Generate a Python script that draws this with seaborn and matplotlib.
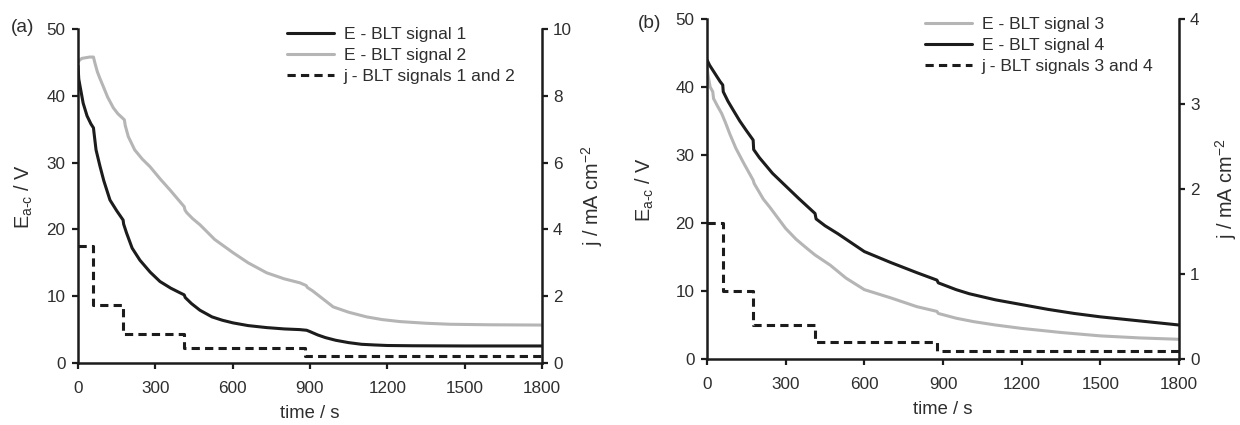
import numpy as np
import pandas as pd
import matplotlib
matplotlib.use("Agg")
import matplotlib.pyplot as plt
import seaborn as sns

# ---------------- data ----------------
# Panel (a)
t_a1 = [0, 3, 10, 20, 35, 50, 60, 62, 70, 85, 100, 124, 150, 175, 177, 188, 210, 240, 280, 318,
        360, 396, 412, 416, 440, 473, 520, 560, 602, 660, 732, 800, 860, 887, 900, 930, 960, 1000,
        1050, 1100, 1150, 1200, 1300, 1500, 1800]
e_a1 = [44.5, 42.5, 41.0, 38.9, 37.0, 35.8, 35.2, 34.5, 31.9, 29.5, 27.3, 24.4, 22.8, 21.4, 20.8,
        19.5, 17.2, 15.4, 13.6, 12.2, 11.2, 10.5, 10.2, 9.8, 8.9, 7.9, 6.9, 6.4, 6.0, 5.6, 5.3, 5.1,
        5.0, 4.9, 4.7, 4.2, 3.8, 3.4, 3.05, 2.8, 2.7, 2.62, 2.58, 2.55, 2.55]

t_a2 = [0, 5, 15, 30, 45, 60, 65, 75, 85, 98, 115, 137, 155, 169, 180, 183, 195, 220, 250, 279,
        320, 357, 390, 412, 415, 422, 445, 473, 530, 602, 660, 732, 800, 861, 885, 890, 910, 940,
        990, 1050, 1120, 1180, 1249, 1350, 1443, 1600, 1800]
e_a2 = [45.0, 45.3, 45.6, 45.7, 45.8, 45.8, 45.0, 43.6, 42.6, 41.4, 39.8, 38.2, 37.3, 36.8, 36.4,
        35.6, 33.9, 31.9, 30.5, 29.4, 27.5, 25.9, 24.4, 23.4, 22.9, 22.5, 21.6, 20.7, 18.5, 16.5,
        15.0, 13.5, 12.6, 12.0, 11.6, 11.3, 10.8, 9.9, 8.4, 7.6, 6.9, 6.5, 6.2, 5.95, 5.8, 5.72, 5.68]

t_aj = [0, 60, 175, 410, 880, 1800]
j_a = [3.5, 1.75, 0.875, 0.4375, 0.21875, 0.21875]

# Panel (b)
t_b3 = [0, 5, 12, 22, 25, 40, 56, 70, 88, 110, 140, 176, 180, 215, 240, 300, 340, 380, 412, 470,
        530, 600, 700, 800, 877, 882, 950, 1016, 1100, 1200, 1350, 1500, 1650, 1800]
e_b3 = [43.0, 41.5, 40.0, 39.3, 38.3, 37.2, 36.1, 34.8, 33.0, 31.0, 28.8, 26.3, 25.8, 23.5, 22.3,
        19.2, 17.6, 16.3, 15.3, 13.8, 11.9, 10.2, 9.0, 7.7, 7.0, 6.7, 6.0, 5.5, 5.0, 4.5, 3.9, 3.4,
        3.1, 2.9]

t_b4 = [0, 10, 30, 50, 60, 62, 80, 100, 125, 150, 176, 178, 200, 250, 304, 350, 412, 416, 450, 500,
        600, 700, 800, 877, 882, 950, 1000, 1100, 1200, 1300, 1400, 1500, 1600, 1700, 1800]
e_b4 = [44.0, 43.2, 42.0, 40.8, 40.3, 39.3, 37.9, 36.6, 35.0, 33.6, 32.2, 30.8, 29.6, 27.3, 25.3,
        23.6, 21.4, 20.6, 19.6, 18.4, 15.8, 14.2, 12.7, 11.6, 11.2, 10.2, 9.6, 8.7, 8.0, 7.3, 6.7,
        6.2, 5.8, 5.4, 5.0]

t_bj = [0, 60, 175, 412, 877, 1800]
j_b = [1.6, 0.8, 0.4, 0.2, 0.1, 0.1]

x_ticks = [0, 300, 600, 900, 1200, 1500, 1800]
e_ticks = [0, 10, 20, 30, 40, 50]
j_ticks_a = [0, 2, 4, 6, 8, 10]
j_ticks_b = [0, 1, 2, 3, 4]

labels_a = ["E - BLT signal 1", "E - BLT signal 2", "j - BLT signals 1 and 2"]
labels_b = ["E - BLT signal 3", "E - BLT signal 4", "j - BLT signals 3 and 4"]

# ---------------- style ----------------
sns.set_style("ticks")
plt.rcParams["font.family"] = ["Liberation Sans", "DejaVu Sans"]
plt.rcParams["mathtext.default"] = "regular"
plt.rcParams["mathtext.fontset"] = "custom"
plt.rcParams["mathtext.rm"] = "Liberation Sans"
plt.rcParams["mathtext.it"] = "Liberation Sans"

BLACK = "#1c1c1c"
GRAY = "#b5b5b5"
TXT = "#2e2e2e"
LW = 2.2
FS = 12.3
DASH = (0, (2.7, 1.7))

fig = plt.figure(figsize=(12.4, 4.25), dpi=100)


def style_axes(ax, twin):
    for a in (ax, twin):
        a.spines["top"].set_visible(False)
        for s in a.spines.values():
            s.set_linewidth(1.8)
            s.set_color(BLACK)
        a.tick_params(direction="out", length=4, width=1.6, colors=BLACK,
                      labelsize=FS, labelcolor=TXT)
    ax.spines["right"].set_visible(False)
    twin.spines["left"].set_visible(False)
    twin.spines["bottom"].set_visible(False)
    ax.tick_params(axis="x", pad=9)
    ax.tick_params(axis="y", pad=5)
    twin.tick_params(axis="y", pad=4)
    ax.set_xlim(0, 1800)
    ax.set_xticks(x_ticks)
    ax.set_ylim(0, 50)
    ax.set_yticks(e_ticks)


def panel(rect, tE1, E1, c1, tE2, E2, c2, tj, jv, jlim, jticks, labels, leg_anchor,
          lab_left, lab_right, plabel, plabel_pos):
    ax = fig.add_axes(rect)
    twin = ax.twinx()
    sns.lineplot(x=tE1, y=E1, ax=ax, color=c1, lw=LW, estimator=None, sort=False)
    sns.lineplot(x=tE2, y=E2, ax=ax, color=c2, lw=LW, estimator=None, sort=False)
    sns.lineplot(x=tj, y=jv, ax=twin, color=BLACK, lw=LW, estimator=None, sort=False,
                 drawstyle="steps-post", linestyle=DASH)
    style_axes(ax, twin)
    twin.set_ylim(*jlim)
    twin.set_yticks(jticks)
    ax.set_xlabel("time / s", fontsize=FS + 1, color=TXT)
    ax.xaxis.set_label_coords(0.5, -0.125)
    ax.set_ylabel("E$_{\\mathregular{a\u2010c}}$ / V", fontsize=FS + 2, color=TXT)
    ax.yaxis.set_label_coords(lab_left, 0.5)
    twin.set_ylabel("j / mA cm$^{-2}$", fontsize=FS + 2, color=TXT)
    twin.yaxis.set_label_coords(lab_right, 0.5)
    handles = ax.get_lines() + twin.get_lines()
    twin.legend(handles, labels, loc="upper left", bbox_to_anchor=leg_anchor,
                bbox_transform=fig.transFigure, frameon=False, fontsize=FS + 0.3,
                handlelength=2.7, handletextpad=0.55, labelspacing=0.32,
                borderpad=0, borderaxespad=0, labelcolor=TXT)
    fig.text(plabel_pos[0], plabel_pos[1], plabel, fontsize=FS + 1.5, color=TXT,
             ha="center", va="center")
    return ax, twin


# panel (a): axes pixel box x 78..542, y 29..363
panel([78 / 1240, (425 - 363) / 425, (542 - 78) / 1240, (363 - 29) / 425],
      t_a1, e_a1, BLACK, t_a2, e_a2, GRAY, t_aj, j_a, (0, 10), j_ticks_a, labels_a,
      (287 / 1240, 1 - 27 / 425), -0.092, 1.081, "(a)", (23 / 1240, 1 - 27 / 425))

# panel (b): axes pixel box x 707..1179, y 19..359
panel([707 / 1240, (425 - 359) / 425, (1179 - 707) / 1240, (359 - 19) / 425],
      t_b3, e_b3, GRAY, t_b4, e_b4, BLACK, t_bj, j_b, (0, 4), j_ticks_b, labels_b,
      (925 / 1240, 1 - 17 / 425), -0.108, 1.072, "(b)", (650 / 1240, 1 - 24 / 425))

fig.savefig("out.png", dpi=100)
